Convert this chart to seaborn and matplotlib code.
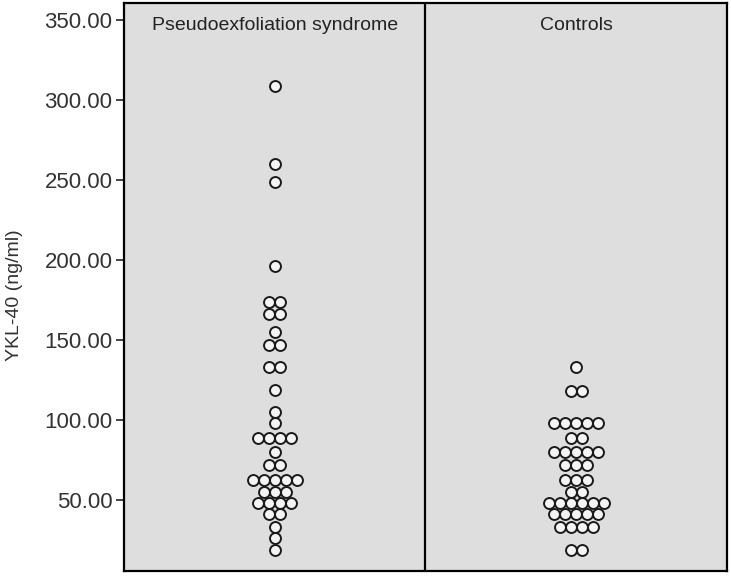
import numpy as np
import pandas as pd
import matplotlib.pyplot as plt
import seaborn as sns

# values: each level is one row of dots, count = dots in that row
groups = ["Pseudoexfoliation syndrome", "Controls"]
pex_levels = [309, 260, 249, 196, 174, 166, 155, 147, 133, 119, 105, 98,
              89, 80, 72, 62.5, 55, 48, 41, 33, 26, 19]
pex_counts = [1, 1, 1, 1, 2, 2, 1, 2, 2, 1, 1, 1,
              4, 1, 2, 5, 3, 4, 2, 1, 1, 1]
ctrl_levels = [133, 118, 98, 89, 80, 72, 62.5, 55, 48, 41, 33, 19]
ctrl_counts = [1, 2, 5, 2, 5, 3, 3, 2, 6, 5, 4, 2]
y_ticks = [50, 100, 150, 200, 250, 300, 350]

DOT_STEP = 0.0365  # horizontal spacing of dots in a row (x data units)


def build_rows(levels, counts, gi):
    rows = []
    for v, n in zip(levels, counts):
        # centre each row of dots on the group position, like an SPSS dot plot
        for k in range(n):
            rows.append({"group": groups[gi], "value": v,
                         "x": gi + 0.5 + (k - (n - 1) / 2) * DOT_STEP})
    return rows


df = pd.DataFrame(build_rows(pex_levels, pex_counts, 0) +
                  build_rows(ctrl_levels, ctrl_counts, 1))

sns.set_style("white")
plt.rcParams["font.family"] = ["Liberation Sans", "DejaVu Sans"]

fig = plt.figure(figsize=(7.31, 5.76), dpi=100)
ax = fig.add_axes([0.170, 0.0095, 0.824, 0.9853])
ax.set_facecolor("#dedede")

sns.scatterplot(data=df, x="x", y="value", ax=ax, s=62, color="#f4f4f4",
                edgecolor="#1a1a1a", linewidth=1.4, zorder=3, legend=False)

ax.axvline(1, color="black", lw=1.6, zorder=2)
for i, name in enumerate(groups):
    ax.text(i + 0.5, 0.96, name, transform=ax.get_xaxis_transform(),
            ha="center", va="center", fontsize=14, color="#222222")

ax.set_xlim(0, 2)
ax.set_ylim(5.9, 360.6)
ax.set_xticks([])
ax.set_xlabel("")
ax.set_yticks(y_ticks)
ax.set_yticklabels([f"{t:.2f}" for t in y_ticks])
ax.tick_params(axis="y", length=6, width=1.2, pad=2.5, labelsize=16,
               labelcolor="#333333", color="#222222", left=True)
ax.set_ylabel("YKL-40 (ng/ml)", fontsize=14, color="#333333")
ax.yaxis.set_label_coords(-0.168, 0.485)

for sp in ax.spines.values():
    sp.set_color("black")
    sp.set_linewidth(1.6)

fig.savefig("out.png", dpi=100)
